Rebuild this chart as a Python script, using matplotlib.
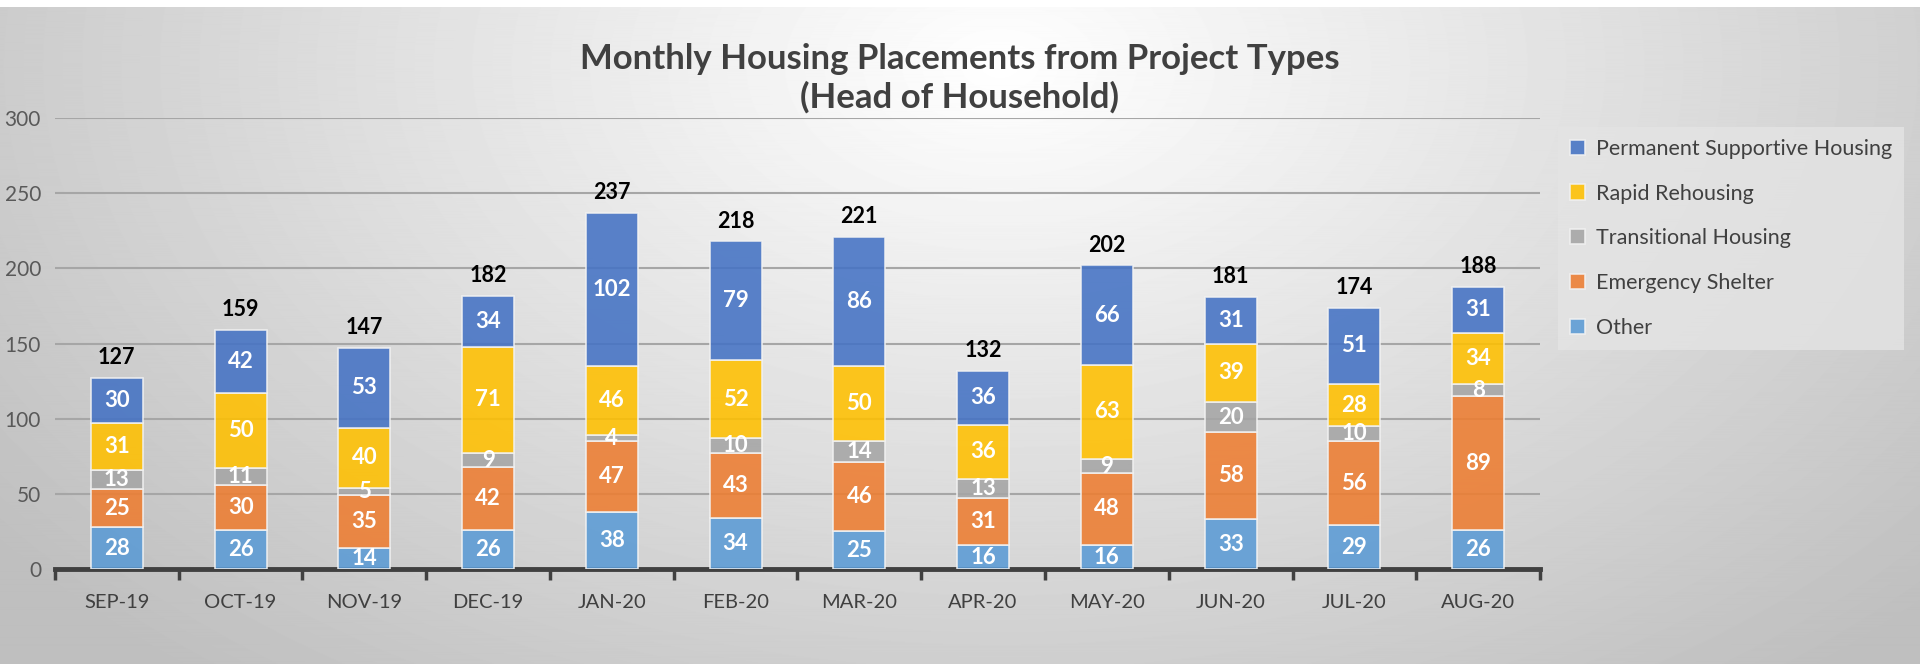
import matplotlib.pyplot as plt
import numpy as np

plt.rcParams['font.family'] = ['Lato', 'DejaVu Sans']

months = ['SEP-19', 'OCT-19', 'NOV-19', 'DEC-19', 'JAN-20', 'FEB-20',
          'MAR-20', 'APR-20', 'MAY-20', 'JUN-20', 'JUL-20', 'AUG-20']
other = [28, 26, 14, 26, 38, 34, 25, 16, 16, 33, 29, 26]
emergency = [25, 30, 35, 42, 47, 43, 46, 31, 48, 58, 56, 89]
transitional = [13, 11, 5, 9, 4, 10, 14, 13, 9, 20, 10, 8]
rapid = [31, 50, 40, 71, 46, 52, 50, 36, 63, 39, 28, 34]
psh = [30, 42, 53, 34, 102, 79, 86, 36, 66, 31, 51, 31]

series = [('Other', other, '#5B9BD5'),
          ('Emergency Shelter', emergency, '#ED7D31'),
          ('Transitional Housing', transitional, '#A5A5A5'),
          ('Rapid Rehousing', rapid, '#FFC000'),
          ('Permanent Supportive Housing', psh, '#4472C4')]

fig = plt.figure(figsize=(19.2, 6.64), dpi=100)
fig.patch.set_facecolor('white')

# background gradient (light in the top middle, grey to the sides)
bg = fig.add_axes([0, 0, 1, 0.99])
bg.set_zorder(-10)
yy, xx = np.mgrid[0:664, 0:1920]
d = np.sqrt(((xx - 1000) / 1100.0) ** 2 + ((yy - 60) / 700.0) ** 2)
shade = 1.0 - 0.22 * np.clip(d, 0, 1.15)
bg.imshow(shade, cmap='gray', vmin=0, vmax=1, aspect='auto')
bg.axis('off')

ax = fig.add_axes([0.0286, 0.143, 0.7735, 0.679])
ax.patch.set_alpha(0)

x = np.arange(len(months))
bottom = np.zeros(len(months))
handles = []
for name, vals, col in series:
    vals = np.array(vals)
    b = ax.bar(x, vals, 0.42, bottom=bottom, color=col, alpha=0.88,
               edgecolor='#f2f2f2', linewidth=1.2, zorder=3, label=name)
    handles.append(b)
    for xi, v, b0 in zip(x, vals, bottom):
        ax.text(xi, b0 + v / 2, str(v), ha='center', va='center',
                color='white', fontsize=16, fontweight='bold', zorder=5)
    bottom += vals

for xi, t in zip(x, bottom):
    ax.annotate(str(int(t)), (xi, t), xytext=(0, 7), textcoords='offset points',
                ha='center', va='bottom', fontsize=15.5, fontweight='bold',
                color='black')

ax.set_ylim(0, 300)
ax.set_xlim(-0.5, len(months) - 0.5)
ax.set_yticks(range(0, 301, 50))
ax.yaxis.grid(True, color='#a6a6a6', linewidth=1.5, zorder=1)
ax.set_axisbelow(True)
ax.tick_params(axis='y', length=0, labelsize=15, labelcolor='#595959', pad=10)
ax.set_xticks(x)
ax.set_xticklabels(months)
ax.set_xticks(np.arange(-0.5, len(months)), minor=True)
ax.tick_params(axis='x', which='major', length=0, labelsize=14.5,
               labelcolor='#404040', pad=18)
ax.tick_params(axis='x', which='minor', length=8, width=2.5, color='#404040',
               direction='out')
for s in ['top', 'right', 'left']:
    ax.spines[s].set_visible(False)
ax.spines['bottom'].set_color('#404040')
ax.spines['bottom'].set_linewidth(3.5)

fig.text(0.5, 0.882, 'Monthly Housing Placements from Project Types\n(Head of Household)',
         ha='center', va='center', fontsize=25, fontweight='bold',
         color='#404040', linespacing=1.2)

leg = fig.legend(handles[::-1], [s[0] for s in series][::-1],
                 loc='upper left', bbox_to_anchor=(0.806, 0.825),
                 fontsize=15.5, frameon=True, fancybox=False,
                 handlelength=0.7, handleheight=0.7, handletextpad=0.5,
                 labelspacing=1.15, borderpad=0.55, labelcolor='#404040')
leg.get_frame().set_facecolor('#e4e4e4')
leg.get_frame().set_edgecolor('none')
leg.get_frame().set_alpha(0.8)

fig.savefig('out.png', dpi=100)
